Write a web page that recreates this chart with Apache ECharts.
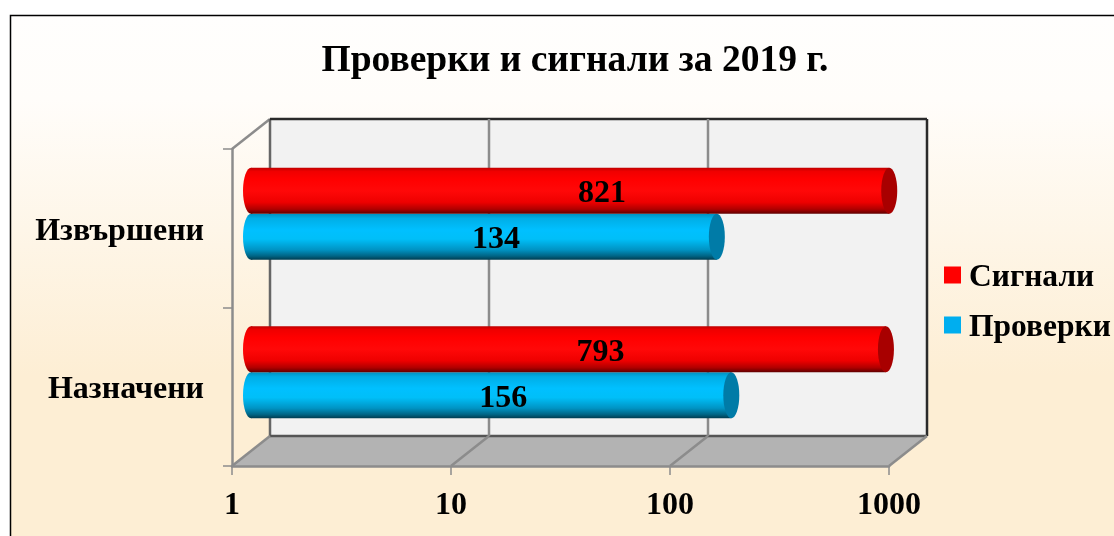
<!DOCTYPE html>
<html>
<head>
<meta charset="utf-8">
<title>Проверки и сигнали за 2019 г.</title>
<script src="https://cdn.jsdelivr.net/npm/echarts@6/dist/echarts.min.js"></script>
<style>
    html, body { margin: 0; padding: 0; background: #fff; overflow: hidden; }
    #chart { width: 1114px; height: 536px; }
</style>
</head>
<body>
<div id="chart"></div>
<script>
// chart data
const titleText = 'Проверки и сигнали за 2019 г.';
const categories = ['Назначени', 'Извършени'];
const checksValues = [156, 134];
const signalsValues = [793, 821];
const logTicks = [1, 10, 100, 1000];

// look of the fake 3D box and the cylinders
const FONT = '"Liberation Serif", serif';
const DEPTH_X = 38;
const DEPTH_Y = -30;
const BAR_H = 46;
const CAP_RX = 8;
const LABEL_SHIFT = { 'Сигнали': 32, 'Проверки': 12 };

function vGrad(stops) {
    return new echarts.graphic.LinearGradient(0, 0, 0, 1, stops.map(s => ({ offset: s[0], color: s[1] })));
}

const redBody = [[0, '#c00000'], [0.08, '#f00000'], [0.25, '#ff0000'], [0.5, '#ff0808'], [0.75, '#ee0000'], [0.9, '#b00000'], [1, '#600000']];
const blueBody = [[0, '#0090c0'], [0.1, '#00aee6'], [0.35, '#00c0ff'], [0.55, '#00bff8'], [0.78, '#0094c4'], [0.92, '#006484'], [1, '#003c50']];

// back wall, floor and the lines of the box
function renderFrame(params, api) {
    const cs = params.coordSys;
    const gray = { stroke: '#8c8c8c', lineWidth: 2.5 };
    const dark = { stroke: '#2a2a2a', lineWidth: 2.5 };
    const left = cs.x, right = cs.x + cs.width, top = cs.y, bottom = cs.y + cs.height;
    const children = [];
    const tickX = api.coord([api.value(0), 0])[0];

    if (params.dataIndex === 0) {
        children.push({
            type: 'polygon',
            shape: { points: [[left + DEPTH_X, top + DEPTH_Y], [right + DEPTH_X, top + DEPTH_Y], [right + DEPTH_X, bottom + DEPTH_Y], [left + DEPTH_X, bottom + DEPTH_Y]] },
            style: { fill: '#f2f2f2' }
        }, {
            type: 'polygon',
            shape: { points: [[left, bottom], [right, bottom], [right + DEPTH_X, bottom + DEPTH_Y], [left + DEPTH_X, bottom + DEPTH_Y]] },
            style: { fill: '#b3b3b3' }
        }, {
            type: 'line',
            shape: { x1: left, y1: top, x2: left + DEPTH_X, y2: top + DEPTH_Y },
            style: gray
        }, {
            type: 'line',
            shape: { x1: left + DEPTH_X, y1: top + DEPTH_Y, x2: left + DEPTH_X, y2: bottom + DEPTH_Y },
            style: { stroke: '#666', lineWidth: 2.5 }
        }, {
            type: 'line',
            shape: { x1: left + DEPTH_X, y1: top + DEPTH_Y, x2: right + DEPTH_X, y2: top + DEPTH_Y },
            style: dark
        }, {
            type: 'line',
            shape: { x1: right + DEPTH_X, y1: top + DEPTH_Y, x2: right + DEPTH_X, y2: bottom + DEPTH_Y },
            style: dark
        }, {
            type: 'line',
            shape: { x1: left + DEPTH_X, y1: bottom + DEPTH_Y, x2: right + DEPTH_X, y2: bottom + DEPTH_Y },
            style: { stroke: '#555', lineWidth: 2.5 }
        });
    }
    // grid line on the wall and its continuation over the floor
    children.push({
        type: 'line',
        shape: { x1: tickX, y1: bottom, x2: tickX + DEPTH_X, y2: bottom + DEPTH_Y },
        style: gray
    });
    if (params.dataIndex > 0 && params.dataIndex < logTicks.length - 1) {
        children.push({
            type: 'line',
            shape: { x1: tickX + DEPTH_X, y1: top + DEPTH_Y, x2: tickX + DEPTH_X, y2: bottom + DEPTH_Y },
            style: gray
        });
    }
    return { type: 'group', children: children };
}

// one cylinder, standing in the middle of the box depth
function makeCylinder(side, bodyStops, capColor, seriesName) {
    return function (params, api) {
        const cs = params.coordSys;
        const end = api.coord([api.value(0), api.value(1)]);
        const y = end[1] + DEPTH_Y / 2 + (side > 0 ? 0.5 : -BAR_H + 0.5);
        const x0 = cs.x + DEPTH_X / 2;
        const x1 = end[0] + DEPTH_X / 2;
        const cy = y + BAR_H / 2;
        return {
            type: 'group',
            children: [{
                type: 'ellipse',
                shape: { cx: x0, cy: cy, rx: CAP_RX, ry: BAR_H / 2 },
                style: { fill: vGrad(bodyStops) }
            }, {
                type: 'rect',
                shape: { x: x0, y: y, width: x1 - x0, height: BAR_H },
                style: { fill: vGrad(bodyStops) }
            }, {
                type: 'ellipse',
                shape: { cx: x1, cy: cy, rx: CAP_RX, ry: BAR_H / 2 },
                style: { fill: capColor }
            }, {
                type: 'text',
                style: {
                    x: (x0 + x1) / 2 + LABEL_SHIFT[seriesName],
                    y: cy + 3,
                    text: String(api.value(0)),
                    font: 'bold 32px ' + FONT,
                    fill: '#000',
                    align: 'center',
                    verticalAlign: 'middle'
                }
            }]
        };
    };
}

function initChart() {
    const chart = echarts.init(document.getElementById('chart'));
    chart.setOption({
        animation: false,
        graphic: [{
            type: 'rect',
            z: -10,
            silent: true,
            shape: { x: 10.5, y: 15.5, width: 1200, height: 600 },
            style: {
                stroke: '#000',
                lineWidth: 1.5,
                fill: new echarts.graphic.LinearGradient(0, 0, 0, 1, [
                    { offset: 0, color: '#fffefd' },
                    { offset: 0.14, color: '#fffdfa' },
                    { offset: 0.6, color: '#fdeed4' },
                    { offset: 1, color: '#fdeed4' }
                ])
            }
        }],
        title: {
            text: titleText,
            left: 570,
            top: 37,
            textAlign: 'center',
            textStyle: { fontFamily: FONT, fontWeight: 'bold', fontSize: 37.5, color: '#000' }
        },
        legend: {
            data: ['Сигнали', 'Проверки'],
            orient: 'vertical',
            left: 939,
            top: 257,
            itemWidth: 17,
            itemHeight: 17,
            itemGap: 18,
            icon: 'rect',
            selectedMode: false,
            formatter: name => '{l|' + name + '}',
            textStyle: {
                rich: {
                    l: { fontFamily: FONT, fontWeight: 'bold', fontSize: 31.5, color: '#000', padding: [6, 0, 0, 3] }
                }
            }
        },
        grid: { left: 232, right: 225, top: 149, bottom: 70 },
        xAxis: {
            type: 'log',
            logBase: 10,
            min: 1,
            max: 1000,
            z: 3,
            axisLine: { show: true, lineStyle: { color: '#8c8c8c', width: 2.5 } },
            axisTick: { show: true, length: 9, lineStyle: { color: '#8c8c8c', width: 1.5 } },
            minorTick: { show: false },
            splitLine: { show: false },
            axisLabel: {
                margin: 24,
                color: '#000',
                fontFamily: FONT,
                fontWeight: 'bold',
                fontSize: 32,
                formatter: v => String(Math.round(v))
            }
        },
        yAxis: {
            type: 'category',
            data: categories,
            z: 3,
            axisLine: { show: true, lineStyle: { color: '#8c8c8c', width: 2.5 } },
            axisTick: { show: true, length: 9, lineStyle: { color: '#8c8c8c', width: 1.5 } },
            splitLine: { show: false },
            axisLabel: {
                margin: 28,
                formatter: v => '{l|' + v + '}',
                rich: {
                    l: { fontFamily: FONT, fontWeight: 'bold', fontSize: 32, color: '#000', padding: [6, 0, 0, 0] }
                }
            }
        },
        series: [{
            name: 'frame',
            type: 'custom',
            z: 1,
            silent: true,
            clip: false,
            encode: { x: 0, y: 1 },
            data: logTicks.map(v => [v, 0]),
            renderItem: renderFrame
        }, {
            name: 'Проверки',
            type: 'custom',
            z: 4,
            clip: false,
            itemStyle: { color: '#00aeef' },
            encode: { x: 0, y: 1 },
            data: checksValues.map((v, i) => [v, i]),
            renderItem: makeCylinder(1, blueBody, '#007ba7', 'Проверки')
        }, {
            name: 'Сигнали',
            type: 'custom',
            z: 5,
            clip: false,
            itemStyle: { color: '#ff0000' },
            encode: { x: 0, y: 1 },
            data: signalsValues.map((v, i) => [v, i]),
            renderItem: makeCylinder(-1, redBody, '#a80000', 'Сигнали')
        }]
    });
}

initChart();
</script>
</body>
</html>
